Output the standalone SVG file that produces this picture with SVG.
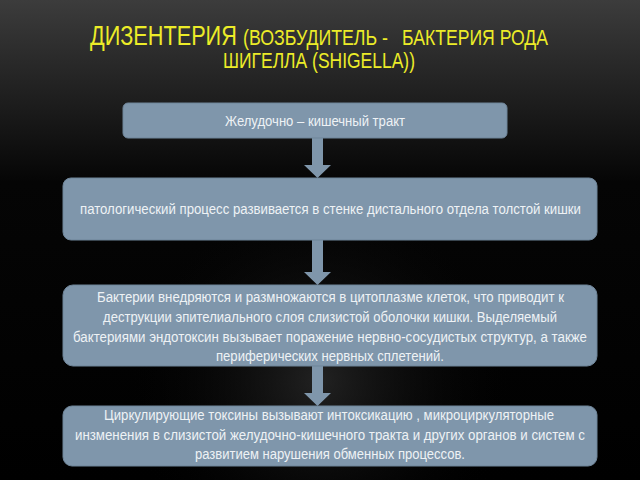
<svg xmlns="http://www.w3.org/2000/svg" width="640" height="480" viewBox="0 0 640 480">
<defs>
<linearGradient id="bg" x1="0" y1="0" x2="0" y2="1">
<stop offset="0" stop-color="#3c3c3c"/>
<stop offset="0.38" stop-color="#050505"/>
<stop offset="1" stop-color="#000"/>
</linearGradient>
<radialGradient id="glow" cx="320" cy="380" r="200" gradientUnits="userSpaceOnUse">
<stop offset="0" stop-color="#2a2a2a" stop-opacity="0.8"/>
<stop offset="1" stop-color="#000" stop-opacity="0"/>
</radialGradient>
<style>
.box{fill:#7f96ab;stroke:#6f8599;stroke-width:1}
.arrow{fill:#7f96ab}
.t{font-family:"Liberation Sans","DejaVu Sans",sans-serif;font-size:15.5px;fill:#eef2f5}
.ttl{font-family:"Liberation Sans","DejaVu Sans",sans-serif;fill:#ecec28}
</style>
</defs>
<rect width="640" height="480" fill="url(#bg)"/>
<rect width="640" height="480" fill="url(#glow)"/>
<g id="title" transform="scale(0.72,1)">
<text class="ttl" x="125" y="45" font-size="27" textLength="204" lengthAdjust="spacingAndGlyphs">ДИЗЕНТЕРИЯ</text>
<text class="ttl" x="337.5" y="45" font-size="22" textLength="201.4" lengthAdjust="spacingAndGlyphs">(ВОЗБУДИТЕЛЬ -</text>
<text class="ttl" x="558.3" y="45" font-size="22" textLength="202.8" lengthAdjust="spacingAndGlyphs">БАКТЕРИЯ РОДА</text>
<text class="ttl" x="309.7" y="68" font-size="22" textLength="266.7" lengthAdjust="spacingAndGlyphs">ШИГЕЛЛА (SHIGELLA))</text>
</g>
<g id="connectors">
<polygon class="arrow" points="312,138 323,138 323,165 331,165 317.5,178 304,165 312,165"/>
<polygon class="arrow" points="312,240 323,240 323,272 331,272 317.5,285 304,272 312,272"/>
<polygon class="arrow" points="312,366 323,366 323,393 331,393 317.5,406 304,393 312,393"/>
</g>
<g id="node1">
<rect class="box" x="123" y="103" width="384" height="35" rx="5"/>
<text class="t" transform="scale(0.85,1)" x="264.7" y="126" textLength="211.8" lengthAdjust="spacingAndGlyphs">Желудочно – кишечный тракт</text>
</g>
<g id="node2">
<rect class="box" x="63" y="178" width="534" height="62" rx="8"/>
<text class="t" transform="scale(0.85,1)" x="94.1" y="214" textLength="589.4" lengthAdjust="spacingAndGlyphs">патологический процесс развивается в стенке дистального отдела толстой кишки</text>
</g>
<g id="node3">
<rect class="box" x="63" y="285" width="534" height="81" rx="10"/>
<text class="t" transform="scale(0.85,1)" x="114.1" y="302" textLength="549.4" lengthAdjust="spacingAndGlyphs">Бактерии внедряются и размножаются в цитоплазме клеток, что приводит к</text>
<text class="t" transform="scale(0.85,1)" x="121.2" y="322" textLength="534.1" lengthAdjust="spacingAndGlyphs">деструкции эпителиального слоя слизистой оболочки кишки. Выделяемый</text>
<text class="t" transform="scale(0.85,1)" x="85.9" y="342" textLength="604.7" lengthAdjust="spacingAndGlyphs">бактериями эндотоксин вызывает поражение нервно-сосудистых структур, а также</text>
<text class="t" transform="scale(0.85,1)" x="254.1" y="361" textLength="268.2" lengthAdjust="spacingAndGlyphs">периферических нервных сплетений.</text>
</g>
<g id="node4">
<rect class="box" x="63" y="406" width="534" height="60" rx="9"/>
<text class="t" transform="scale(0.85,1)" x="122.4" y="420" textLength="529.4" lengthAdjust="spacingAndGlyphs">Циркулирующие токсины вызывают интоксикацию , микроциркуляторные</text>
<text class="t" transform="scale(0.85,1)" x="88.2" y="440" textLength="600" lengthAdjust="spacingAndGlyphs">инзменения в слизистой желудочно-кишечного тракта и других органов  и систем с</text>
<text class="t" transform="scale(0.85,1)" x="229.4" y="459" textLength="317.6" lengthAdjust="spacingAndGlyphs">развитием нарушения обменных процессов.</text>
</g>
</svg>
